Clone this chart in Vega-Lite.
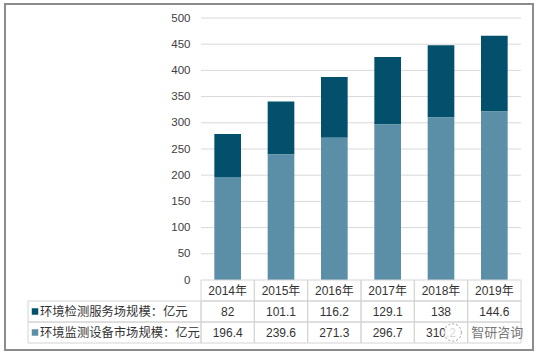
{
  "$schema": "https://vega.github.io/schema/vega-lite/v6.json",
  "width": 528,
  "height": 346,
  "autosize": {"type": "none"},
  "padding": {"left": 5, "top": 4, "right": 6, "bottom": 5},
  "background": "white",
  "config": {
    "view": {"stroke": "#8c8c8c", "strokeWidth": 2},
    "font": "Liberation Sans, Noto Sans CJK SC",
    "text": {"font": "Liberation Sans, Noto Sans CJK SC", "fontSize": 12, "color": "#333333"}
  },
  "datasets": {
    "market": [
      {"year": "2014年", "series": "环境检测服务场规模：亿元", "value": 82},
      {"year": "2015年", "series": "环境检测服务场规模：亿元", "value": 101.1},
      {"year": "2016年", "series": "环境检测服务场规模：亿元", "value": 116.2},
      {"year": "2017年", "series": "环境检测服务场规模：亿元", "value": 129.1},
      {"year": "2018年", "series": "环境检测服务场规模：亿元", "value": 138},
      {"year": "2019年", "series": "环境检测服务场规模：亿元", "value": 144.6},
      {"year": "2014年", "series": "环境监测设备市场规模：亿元", "value": 196.4},
      {"year": "2015年", "series": "环境监测设备市场规模：亿元", "value": 239.6},
      {"year": "2016年", "series": "环境监测设备市场规模：亿元", "value": 271.3},
      {"year": "2017年", "series": "环境监测设备市场规模：亿元", "value": 296.7},
      {"year": "2018年", "series": "环境监测设备市场规模：亿元", "value": 310.2},
      {"year": "2019年", "series": "环境监测设备市场规模：亿元", "value": 321.4}
    ],
    "grid": [{"v": 50}, {"v": 100}, {"v": 150}, {"v": 200}, {"v": 250}, {"v": 300}, {"v": 350}, {"v": 400}, {"v": 450}, {"v": 500}],
    "wm": [{"t": "智研咨询"}]
  },
  "resolve": {"scale": {"x": "independent", "y": "independent"}},
  "layer": [
    {
      "data": {"name": "grid"},
      "mark": {"type": "rule", "color": "#d9d9d9", "strokeWidth": 1},
      "encoding": {
        "x": {"datum": 0, "type": "quantitative", "scale": {"domain": [0, 1], "range": [196, 516]}, "axis": null},
        "x2": {"datum": 1},
        "y": {
          "field": "v", "type": "quantitative",
          "scale": {"domain": [0, 500], "range": [276, 14]},
          "axis": {
            "orient": "left", "offset": -189, "values": [0, 50, 100, 150, 200, 250, 300, 350, 400, 450, 500],
            "domain": false, "ticks": false, "tickSize": 0, "grid": false, "labelPadding": 4,
            "labelFont": "Liberation Sans", "labelFontSize": 11.5, "labelColor": "#404040",
            "labelOverlap": false, "title": null
          }
        }
      }
    },
    {
      "data": {"name": "market"},
      "mark": {"type": "bar", "width": {"band": 0.5}},
      "encoding": {
        "x": {"field": "year", "type": "nominal", "sort": null, "scale": {"range": [196, 516], "paddingInner": 0, "paddingOuter": 0}, "axis": null},
        "y": {"field": "value", "type": "quantitative", "stack": "zero", "scale": {"domain": [0, 500], "range": [276, 14]}, "axis": null},
        "color": {
          "field": "series", "type": "nominal",
          "scale": {"domain": ["环境检测服务场规模：亿元", "环境监测设备市场规模：亿元"], "range": ["#02506b", "#5b8fa7"]},
          "legend": null
        },
        "order": {"field": "series", "sort": "descending"}
      }
    },
    {
      "layer": [
        {
          "data": {"name": "market"},
          "transform": [{"filter": {"field": "series", "equal": "环境检测服务场规模：亿元"}}],
          "mark": {"type": "rect", "filled": false, "color": "#d4d4d4", "strokeWidth": 1},
          "encoding": {
            "x": {"field": "year", "type": "nominal", "sort": null, "scale": {"range": [196, 516], "paddingInner": 0, "paddingOuter": 0}, "axis": null},
            "y": {"datum": "年份", "type": "nominal", "scale": {"domain": ["年份", "环境检测服务场规模：亿元", "环境监测设备市场规模：亿元"], "range": [276, 339], "paddingInner": 0, "paddingOuter": 0}, "axis": null}
          }
        },
        {
          "data": {"name": "market"},
          "mark": {"type": "rect", "filled": false, "color": "#d4d4d4", "strokeWidth": 1},
          "encoding": {
            "x": {"field": "year", "type": "nominal", "sort": null, "axis": null},
            "y": {"field": "series", "type": "nominal", "axis": null}
          }
        },
        {
          "data": {"name": "market"},
          "transform": [{"filter": {"field": "series", "equal": "环境检测服务场规模：亿元"}}],
          "mark": {"type": "text", "baseline": "middle", "align": "center"},
          "encoding": {
            "x": {"field": "year", "type": "nominal", "sort": null, "axis": null},
            "y": {"datum": "年份", "type": "nominal", "axis": null},
            "text": {"field": "year", "type": "nominal"}
          }
        },
        {
          "data": {"name": "market"},
          "transform": [{"filter": "!(datum.year == '2019年' && datum.series == '环境监测设备市场规模：亿元')"}],
          "mark": {"type": "text", "baseline": "middle", "align": "center"},
          "encoding": {
            "x": {"field": "year", "type": "nominal", "sort": null, "axis": null},
            "y": {"field": "series", "type": "nominal", "axis": null},
            "text": {"field": "value", "type": "nominal"}
          }
        },
        {
          "data": {"name": "wm"},
          "mark": {"type": "point", "shape": "circle", "size": 300, "filled": true, "fill": "white", "fillOpacity": 0.8, "stroke": "#9a9a9a", "strokeWidth": 1, "strokeOpacity": 1, "strokeDash": [2, 2]},
          "encoding": {
            "x": {"datum": "2018年", "type": "nominal", "bandPosition": 0.72, "axis": null},
            "y": {"datum": "环境监测设备市场规模：亿元", "type": "nominal", "axis": null}
          }
        },
        {
          "data": {"name": "wm"},
          "mark": {"type": "text", "baseline": "middle", "align": "center", "dx": 3, "font": "Noto Sans CJK SC", "fontSize": 13, "color": "#777777"},
          "encoding": {
            "x": {"datum": "2019年", "type": "nominal", "axis": null},
            "y": {"datum": "环境监测设备市场规模：亿元", "type": "nominal", "axis": null},
            "text": {"field": "t", "type": "nominal"}
          }
        }
      ]
    },
    {
      "layer": [
        {
          "data": {"name": "market"},
          "transform": [{"filter": {"field": "year", "equal": "2014年"}}],
          "mark": {"type": "rect", "filled": false, "color": "#d4d4d4", "strokeWidth": 1},
          "encoding": {
            "x": {"datum": "label", "type": "nominal", "scale": {"range": [23, 196], "paddingInner": 0, "paddingOuter": 0}, "axis": null},
            "y": {"field": "series", "type": "nominal", "scale": {"domain": ["年份", "环境检测服务场规模：亿元", "环境监测设备市场规模：亿元"], "range": [276, 339], "paddingInner": 0, "paddingOuter": 0}, "axis": null}
          }
        },
        {
          "data": {"name": "market"},
          "transform": [{"filter": {"field": "year", "equal": "2014年"}}],
          "mark": {"type": "point", "shape": "square", "size": 42, "filled": true, "opacity": 1, "xOffset": 7},
          "encoding": {
            "x": {"datum": "label", "type": "nominal", "bandPosition": 0, "axis": null},
            "y": {"field": "series", "type": "nominal", "axis": null},
            "color": {"field": "series", "type": "nominal", "legend": null}
          }
        },
        {
          "data": {"name": "market"},
          "transform": [{"filter": {"field": "year", "equal": "2014年"}}],
          "mark": {"type": "text", "baseline": "middle", "align": "left", "dx": 12, "font": "Noto Sans CJK SC", "fontSize": 12.3, "color": "#333333"},
          "encoding": {
            "x": {"datum": "label", "type": "nominal", "bandPosition": 0, "axis": null},
            "y": {"field": "series", "type": "nominal", "axis": null},
            "text": {"field": "series", "type": "nominal"}
          }
        }
      ]
    }
  ]
}
